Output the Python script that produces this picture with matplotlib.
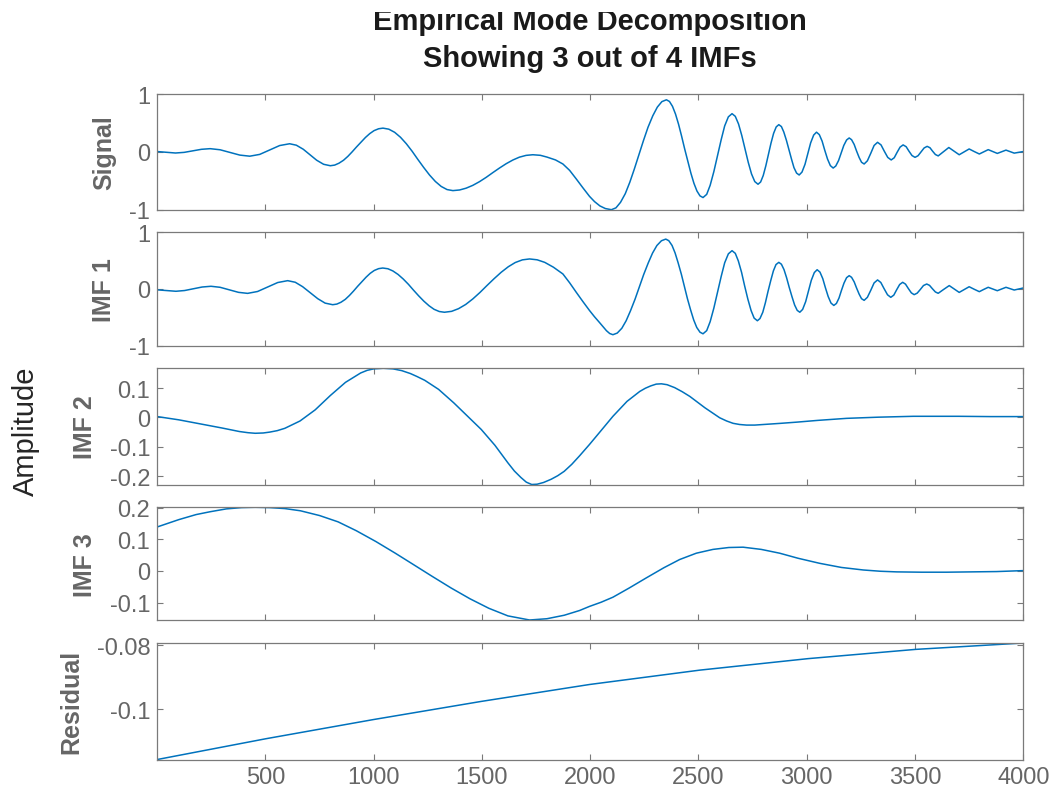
import matplotlib
matplotlib.use('Agg')
from matplotlib import pyplot as plt
from matplotlib.patches import Rectangle

# values (sample index, amplitude)
signal_x = [1, 43, 85, 125, 165, 205, 245, 291, 336, 382, 428, 474, 520, 566, 612,
            643, 675, 706, 737, 769, 800,
            820, 840, 861, 881, 901, 921, 942, 962, 982, 1002, 1023, 1043,
            1070, 1097, 1124, 1151, 1178, 1204, 1231, 1258, 1285, 1312, 1339, 1366,
            1397, 1427, 1458, 1489, 1520, 1550, 1581, 1612, 1643, 1673, 1704, 1735,
            1770, 1800, 1840, 1874, 1905, 1936, 1966, 1997, 2020, 2045, 2070, 2098,
            2119, 2140, 2162, 2183, 2204, 2225, 2246, 2267, 2289, 2310, 2331, 2352,
            2366, 2380, 2394, 2408, 2422, 2436, 2451, 2465, 2479, 2493, 2507, 2521,
            2538, 2554, 2571, 2588, 2605, 2621, 2638, 2655,
            2670, 2685, 2700, 2715, 2730, 2745, 2760, 2775,
            2787, 2799, 2811, 2823, 2835, 2847, 2859, 2871,
            2883, 2894, 2906, 2918, 2930, 2941, 2953, 2965,
            2978, 2992, 3005, 3018, 3032, 3045,
            3058, 3071, 3083, 3096, 3109, 3122,
            3134, 3147, 3159, 3171, 3184, 3196,
            3207, 3219, 3230, 3242, 3253, 3265,
            3280, 3296, 3311, 3327, 3343, 3358, 3374, 3390, 3404, 3417, 3431, 3445,
            3459, 3472, 3486, 3500, 3514, 3528, 3542, 3556, 3569, 3581, 3594, 3607,
            3631, 3656, 3680, 3704, 3727, 3750, 3773, 3797, 3817, 3838, 3859, 3880,
            3900, 3920, 3939, 3958, 3979, 4000]
signal_y = [0.005, -0.008, -0.02, -0.009, 0.018, 0.044, 0.055, 0.036, -0.01, -0.056, -0.075, -0.044, 0.033, 0.109, 0.14,
            0.115, 0.045, -0.05, -0.145, -0.215, -0.24,
            -0.229, -0.196, -0.145, -0.078, 0.001, 0.085, 0.169, 0.248, 0.315, 0.367, 0.399, 0.41,
            0.392, 0.338, 0.252, 0.14, 0.009, -0.13, -0.269, -0.40, -0.512, -0.598, -0.652, -0.67,
            -0.659, -0.628, -0.579, -0.515, -0.44, -0.36, -0.28, -0.205, -0.141, -0.092, -0.061, -0.05,
            -0.06, -0.09, -0.14, -0.21, -0.32, -0.47, -0.62, -0.77, -0.86, -0.935, -0.98, -1.0,
            -0.968, -0.873, -0.723, -0.525, -0.295, -0.05, 0.195, 0.425, 0.623, 0.773, 0.868, 0.9,
            0.871, 0.787, 0.653, 0.478, 0.273, 0.055, -0.163, -0.368, -0.543, -0.677, -0.761, -0.79,
            -0.735, -0.578, -0.342, -0.065, 0.212, 0.448, 0.605, 0.66,
            0.614, 0.482, 0.283, 0.05, -0.183, -0.382, -0.514, -0.56,
            -0.521, -0.41, -0.242, -0.045, 0.152, 0.32, 0.431, 0.47,
            0.437, 0.343, 0.201, 0.035, -0.131, -0.273, -0.367, -0.40,
            -0.35, -0.215, -0.03, 0.155, 0.29, 0.34,
            0.298, 0.185, 0.03, -0.125, -0.238, -0.28,
            -0.245, -0.15, -0.02, 0.11, 0.205, 0.24,
            0.21, 0.128, 0.015, -0.098, -0.18, -0.21,
            -0.155, -0.022, 0.11, 0.165, 0.12, 0.012, -0.096, -0.14, -0.102, -0.01, 0.082, 0.12,
            0.089, 0.012, -0.064, -0.095, -0.067, 0.0, 0.067, 0.095, 0.071, 0.012, -0.046, -0.07,
            0.002, 0.075, 0.012, -0.05, 0.0, 0.05, 0.006, -0.037, 0.0, 0.038, 0.005, -0.027,
            0.002, 0.03, 0.004, -0.022, -0.008, 0.005]

imf1_x = [1, 44, 87, 127, 168, 208, 249, 291, 333, 376, 418, 464, 510, 557, 603,
          638, 672, 707, 742, 776, 811,
          830, 849, 869, 888, 907, 926, 946, 965, 984, 1003, 1023, 1042,
          1066, 1089, 1113, 1137, 1161, 1184, 1208, 1232, 1256, 1279, 1303, 1327,
          1360, 1392, 1425, 1458, 1491, 1523, 1556, 1589, 1622, 1654, 1687, 1720,
          1755, 1790, 1830, 1874, 1905, 1936, 1966, 1997, 2020, 2045, 2075, 2090, 2105,
          2125, 2146, 2166, 2186, 2207, 2227, 2247, 2268, 2288, 2308, 2329, 2349,
          2363, 2378, 2392, 2406, 2421, 2435, 2449, 2464, 2478, 2492, 2507, 2521,
          2538, 2554, 2571, 2588, 2605, 2621, 2638, 2655,
          2670, 2684, 2699, 2713, 2728, 2743, 2757, 2772,
          2784, 2797, 2809, 2821, 2834, 2846, 2858, 2871,
          2883, 2895, 2907, 2919, 2932, 2944, 2956, 2968,
          2981, 2995, 3008, 3021, 3035, 3048,
          3061, 3074, 3086, 3099, 3112, 3125,
          3137, 3149, 3160, 3172, 3184, 3196,
          3207, 3219, 3230, 3242, 3253, 3265,
          3280, 3296, 3311, 3327, 3342, 3357, 3373, 3388, 3402, 3415, 3429, 3443,
          3456, 3469, 3483, 3496, 3510, 3525, 3539, 3554, 3567, 3580, 3594, 3607,
          3632, 3658, 3681, 3704, 3727, 3750, 3773, 3797, 3817, 3838, 3859, 3880,
          3900, 3920, 3939, 3958, 3979, 4000]
imf1_y = [-0.015, -0.028, -0.04, -0.027, 0.004, 0.035, 0.048, 0.03, -0.0145, -0.059, -0.077, -0.044, 0.035, 0.114, 0.147,
          0.119, 0.041, -0.065, -0.171, -0.249, -0.277,
          -0.266, -0.234, -0.183, -0.115, -0.037, 0.047, 0.13, 0.208, 0.276, 0.327, 0.359, 0.37,
          0.357, 0.318, 0.256, 0.175, 0.081, -0.02, -0.121, -0.215, -0.296, -0.358, -0.397, -0.41,
          -0.394, -0.347, -0.273, -0.175, -0.061, 0.06, 0.181, 0.295, 0.393, 0.467, 0.514, 0.53,
          0.515, 0.47, 0.385, 0.265, 0.11, -0.06, -0.22, -0.38, -0.49, -0.6, -0.735, -0.785, -0.806,
          -0.777, -0.693, -0.56, -0.385, -0.181, 0.037, 0.255, 0.459, 0.634, 0.767, 0.851, 0.88,
          0.852, 0.768, 0.636, 0.463, 0.26, 0.045, -0.17, -0.373, -0.546, -0.678, -0.762, -0.79,
          -0.734, -0.576, -0.337, -0.057, 0.223, 0.462, 0.62, 0.676,
          0.629, 0.496, 0.294, 0.058, -0.178, -0.38, -0.513, -0.56,
          -0.521, -0.41, -0.242, -0.045, 0.152, 0.32, 0.431, 0.47,
          0.437, 0.342, 0.198, 0.03, -0.138, -0.282, -0.377, -0.41,
          -0.36, -0.223, -0.035, 0.153, 0.29, 0.34,
          0.298, 0.183, 0.025, -0.133, -0.248, -0.29,
          -0.255, -0.159, -0.028, 0.104, 0.2, 0.235,
          0.206, 0.126, 0.018, -0.091, -0.171, -0.2,
          -0.147, -0.02, 0.107, 0.16, 0.115, 0.007, -0.102, -0.147, -0.108, -0.015, 0.079, 0.118,
          0.086, 0.009, -0.068, -0.1, -0.073, -0.006, 0.061, 0.088, 0.064, 0.006, -0.052, -0.076,
          -0.008, 0.06, 0.0, -0.06, -0.01, 0.04, -0.004, -0.047, -0.008, 0.03, 0.0, -0.03,
          0.0, 0.03, 0.006, -0.018, 0.0, 0.018]

imf2_x = [1, 100, 200, 300, 380, 420, 453, 490, 520, 555,
          590, 660, 730, 800, 870, 940, 970, 1000, 1045, 1090,
          1130, 1170, 1200, 1236, 1300, 1370, 1430, 1497, 1560, 1620,
          1650, 1680, 1705, 1730, 1755, 1785, 1820, 1850, 1880, 1915,
          1951, 1997, 2050, 2105, 2170, 2229, 2255, 2280, 2305, 2329,
          2355, 2390, 2425, 2460, 2530, 2598, 2630, 2660, 2690, 2722,
          2760, 2800, 2880, 2953, 3050, 3184, 3330, 3492, 3700, 3850,
          4000]
imf2_y = [0.003, -0.008, -0.022, -0.036, -0.048, -0.052, -0.054, -0.053, -0.05, -0.045,
          -0.037, -0.012, 0.026, 0.075, 0.12, 0.152, 0.161, 0.166, 0.168, 0.166,
          0.16, 0.15, 0.14, 0.127, 0.096, 0.05, 0.007, -0.041, -0.095, -0.155,
          -0.183, -0.205, -0.221, -0.229, -0.228, -0.222, -0.211, -0.199, -0.184, -0.16,
          -0.131, -0.092, -0.045, 0.004, 0.055, 0.089, 0.1, 0.108, 0.114, 0.115,
          0.112, 0.102, 0.088, 0.072, 0.033, -0.001, -0.012, -0.02, -0.024, -0.026,
          -0.026, -0.024, -0.02, -0.016, -0.01, -0.003, 0.001, 0.004, 0.004, 0.003,
          0.003]

imf3_x = [1, 100, 180, 245, 320, 390, 453, 520, 590, 662,
          750, 836, 920, 1010, 1100, 1184, 1270, 1358, 1445, 1532,
          1620, 1720, 1800, 1880, 1951, 1997, 2050, 2105, 2180, 2259,
          2340, 2413, 2490, 2567, 2640, 2706, 2790, 2875, 2960, 3060,
          3160, 3261, 3340, 3415, 3530, 3646, 3760, 3877, 4000]
imf3_y = [0.139, 0.162, 0.178, 0.187, 0.196, 0.2, 0.201, 0.2, 0.197, 0.19,
          0.175, 0.155, 0.127, 0.093, 0.056, 0.02, -0.017, -0.054, -0.088, -0.118,
          -0.142, -0.155, -0.151, -0.14, -0.125, -0.112, -0.099, -0.083, -0.054, -0.022,
          0.01, 0.036, 0.056, 0.068, 0.074, 0.075, 0.068, 0.056, 0.04, 0.024,
          0.011, 0.003, -0.001, -0.003, -0.004, -0.004, -0.003, -0.002, 0.001]

residual_x = [1, 502, 998, 1497, 1997, 2506, 3006, 3503, 4000]
residual_y = [-0.1158, -0.1093, -0.1033, -0.0976, -0.0923, -0.0878, -0.0842, -0.0813, -0.0793]

panel_names = ['Signal', 'IMF 1', 'IMF 2', 'IMF 3', 'Residual']
panel_yticks = [[-1, 0, 1], [-1, 0, 1], [-0.2, -0.1, 0, 0.1],
                [-0.1, 0, 0.1, 0.2], [-0.1, -0.08]]
x_ticks = [500, 1000, 1500, 2000, 2500, 3000, 3500, 4000]

series = [(signal_x, signal_y), (imf1_x, imf1_y), (imf2_x, imf2_y),
          (imf3_x, imf3_y), (residual_x, residual_y)]
ylims = [(-1, 1), (-1, 1), (-0.229, 0.168), (-0.155, 0.201), (-0.1158, -0.0793)]

# axes boxes in pixels (top, bottom), figure is 1056 x 803
boxes = [(95, 210.7), (233.3, 346.7), (369.3, 485.5), (508.3, 621), (644, 760.5)]
left_px, right_px = 157.3, 1023.3
W, H = 1056, 803

plt.rcParams['font.family'] = ['Liberation Sans', 'DejaVu Sans']
plt.rcParams['axes.unicode_minus'] = False

line_color = '#0072BD'
axis_color = '#7a7a7a'
text_gray = '#666666'

fig = plt.figure(figsize=(W / 100, H / 100), dpi=100)

for i, ((xs, ys), name) in enumerate(zip(series, panel_names)):
    top, bottom = boxes[i]
    ax = fig.add_axes([left_px / W, 1 - bottom / H, (right_px - left_px) / W, (bottom - top) / H])
    ax.plot(xs, ys, color=line_color, lw=1.1, solid_joinstyle='round')
    ax.set_xlim(1, 4000)
    ax.set_ylim(*ylims[i])
    ax.set_xticks(x_ticks)
    ax.set_yticks(panel_yticks[i])
    ax.set_yticklabels(['%g' % v for v in panel_yticks[i]])
    if i < 4:
        ax.set_xticklabels([])
    else:
        ax.set_xticklabels([str(v) for v in x_ticks])
    ax.tick_params(direction='in', length=4, width=0.8, color=axis_color,
                   labelcolor=text_gray, labelsize=17, top=True, right=True, pad=5)
    for sp in ax.spines.values():
        sp.set_color(axis_color)
        sp.set_linewidth(0.9)
    ax.set_ylabel(name, fontsize=18, fontweight='bold', color=text_gray, labelpad=9.5)

fig.text(25.5 / W, 1 - 431 / H, 'Amplitude', rotation=90, fontsize=21,
         color='#262626', ha='center', va='center')
fig.text(590 / W, 1 - 30 / H, 'Empirical Mode Decomposition', fontsize=21,
         fontweight='bold', color='#1a1a1a', ha='center', va='baseline')
fig.text(590 / W, 1 - 67 / H, 'Showing 3 out of 4 IMFs', fontsize=21,
         fontweight='bold', color='#1a1a1a', ha='center', va='baseline')

# the top of the first title line is cut off in the reference
fig.patches.append(Rectangle((0, 1 - 13 / H), 1, 13 / H, transform=fig.transFigure,
                             facecolor='white', edgecolor='none', zorder=10))

fig.savefig('out.png', dpi=100)
